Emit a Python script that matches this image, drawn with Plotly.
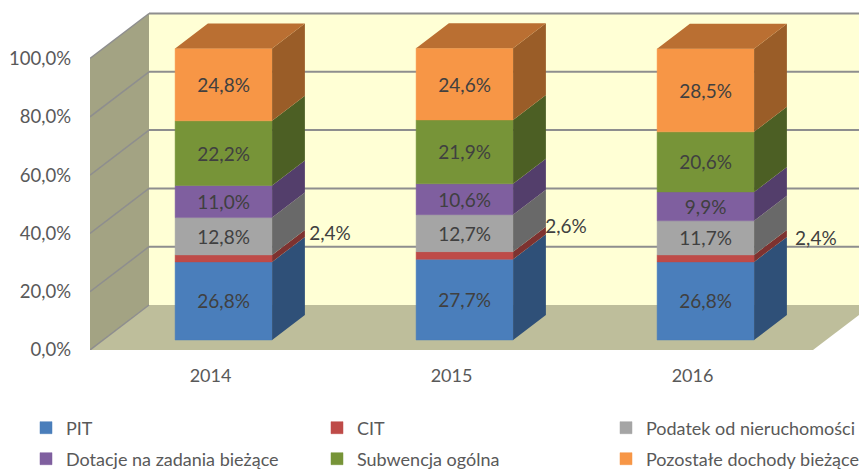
import numpy as np
import plotly.graph_objects as go

years = ["2014", "2015", "2016"]
names = ["PIT", "CIT", "Podatek od nieruchomości", "Dotacje na zadania bieżące", "Subwencja ogólna", "Pozostałe dochody bieżące"]
pit = [26.8, 27.7, 26.8]
cit = [2.4, 2.6, 2.4]
podatek = [12.8, 12.7, 11.7]
dotacje = [11.0, 10.6, 9.9]
subwencja = [22.2, 21.9, 20.6]
pozostale = [24.8, 24.6, 28.5]
series = [pit, cit, podatek, dotacje, subwencja, pozostale]

front_cols = ["#4A7EBB", "#BE4B48", "#A5A5A5", "#7F5F9F", "#779438", "#F79646"]
side_cols = ["#2F5078", "#7D3230", "#696969", "#533E6B", "#4C5F24", "#9A5D28"]
top_col = "#BA6F32"
TXT = "#404040"
AX = "#595959"
FONT = "Lato"

PX_X, PX_Y = 241.0, 2.915          # pixels per category / per percent
WALL_DX, WALL_DY = 59 / PX_X, 45 / PX_Y   # full depth of the box in axis units
D0, D1 = 10 / 45, 35 / 45          # bar front and back as a fraction of depth
BAR_W = 97 / PX_X
XMIN, XMAX = -0.5, -0.5 + 769 / PX_X
YMAX = 350 / PX_Y


def proj(x, y, d):
    return x + d * WALL_DX, y + d * WALL_DY


def poly(points):
    xs, ys = zip(*points)
    return "M" + "L".join(f"{a},{b}" for a, b in zip(xs, ys)) + "Z"


fig = go.Figure()
shapes = []
# back wall, left wall, floor
back = [proj(XMIN, 0, 1), proj(XMAX + 1, 0, 1), proj(XMAX + 1, 100, 1), proj(XMIN, 100, 1)]
left = [proj(XMIN, 0, 0), proj(XMIN, 0, 1), proj(XMIN, 100, 1), proj(XMIN, 100, 0)]
floor = [proj(XMIN, 0, 0), proj(2.5, 0, 0), proj(2.5, 0, 1), proj(XMIN, 0, 1)]
for pts, col in ((back, "#FFFFD5"), (left, "#A3A383"), (floor, "#BEBE9B")):
    shapes.append(dict(type="path", path=poly(pts), fillcolor=col, line_width=0, layer="below"))
# gridlines
for v in range(0, 101, 20):
    a, b = proj(XMIN, v, 0), proj(XMIN, v, 1)
    c = proj(XMAX + 1, v, 1)
    col = "#8E8E8E"
    shapes.append(dict(type="line", x0=a[0], y0=a[1], x1=b[0], y1=b[1], line=dict(color=col, width=1.5), layer="below"))
    if v > 0:
        shapes.append(dict(type="line", x0=b[0], y0=b[1], x1=c[0], y1=c[1], line=dict(color=col, width=2), layer="below"))

vals = np.array(series, dtype=float)
bottoms = np.vstack([np.zeros(3), np.cumsum(vals, axis=0)[:-1]])
xs = np.arange(3, dtype=float)

legend_ids = ["legend", "legend2", "legend3", "legend4", "legend5", "legend6"]

for k, name in enumerate(names):
    fx, fb = proj(xs, bottoms[k], D0)
    fig.add_trace(go.Bar(
        x=fx, y=vals[k], base=fb, width=BAR_W, name=name,
        marker=dict(color=front_cols[k], line=dict(color=front_cols[k], width=0.5)),
        text=[f"{v:.1f}%".replace(".", ",") if k != 1 else "" for v in vals[k]],
        textposition="inside", insidetextanchor="middle", textangle=0,
        textfont=dict(color=TXT, size=19, family=FONT), constraintext="none",
        legend=legend_ids[k], hoverinfo="skip",
    ))

for k in range(6):
    px, py = [], []
    for i in range(3):
        r = xs[i] + BAR_W / 2
        lo, hi = bottoms[k, i], bottoms[k, i] + vals[k, i]
        pts = [proj(r, lo, D0), proj(r, lo, D1), proj(r, hi, D1), proj(r, hi, D0), proj(r, lo, D0)]
        px += [p[0] for p in pts] + [None]
        py += [p[1] for p in pts] + [None]
    fig.add_trace(go.Scatter(x=px, y=py, mode="lines", fill="toself", fillcolor=side_cols[k],
                             line=dict(width=0), showlegend=False, hoverinfo="skip"))

# top faces
px, py = [], []
for i in range(3):
    l, r = xs[i] - BAR_W / 2, xs[i] + BAR_W / 2
    t = bottoms[5, i] + vals[5, i]
    pts = [proj(l, t, D0), proj(r, t, D0), proj(r, t, D1), proj(l, t, D1), proj(l, t, D0)]
    px += [p[0] for p in pts] + [None]
    py += [p[1] for p in pts] + [None]
fig.add_trace(go.Scatter(x=px, y=py, mode="lines", fill="toself", fillcolor=top_col,
                         line=dict(width=0), showlegend=False, hoverinfo="skip"))

# CIT labels, pulled out to the right of the bars
cit_dx = [0.496, 0.475, 0.512]
cit_y = [39.4, 41.8, 37.6]
fig.add_trace(go.Scatter(
    x=xs + np.array(cit_dx), y=cit_y, mode="text",
    text=[f"{v:.1f}%".replace(".", ",") for v in cit],
    textposition="middle center", textfont=dict(color=TXT, size=19, family=FONT),
    showlegend=False, hoverinfo="skip", cliponaxis=False,
))

legend_common = dict(orientation="h", xref="container", yref="container", xanchor="left", yanchor="middle",
                     font=dict(size=18, color=AX, family=FONT), bgcolor="rgba(0,0,0,0)",
                     itemclick=False, itemdoubleclick=False)
legend_x = [26, 317, 606]
legend_y = [428, 459]
legends = {}
for k, lid in enumerate(legend_ids):
    legends[lid] = dict(x=legend_x[k % 3] / 859, y=1 - legend_y[k // 3] / 470, **legend_common)

fig.update_layout(
    width=859, height=470, autosize=False,
    margin=dict(l=90, r=0, t=0, b=120),
    paper_bgcolor="white", plot_bgcolor="white",
    barmode="overlay", showlegend=True, shapes=shapes,
    font=dict(family=FONT, color=AX),
    xaxis=dict(range=[XMIN, XMAX], tickvals=[0, 1, 2], ticktext=years, showgrid=False, zeroline=False,
               showline=False, ticks="", ticklabelstandoff=13, tickfont=dict(size=18, color=AX, family=FONT)),
    yaxis=dict(range=[0, YMAX], tickvals=list(range(0, 101, 20)),
               ticktext=[f"{v},0%" for v in range(0, 101, 20)], showgrid=False, zeroline=False,
               showline=False, ticks="", ticklabelstandoff=18, tickfont=dict(size=18.5, color=AX, family=FONT)),
    **legends,
)

fig.write_html("out.html", config=dict(displayModeBar=False),
               post_script="document.body.style.margin='0';document.body.style.overflow='hidden';")
